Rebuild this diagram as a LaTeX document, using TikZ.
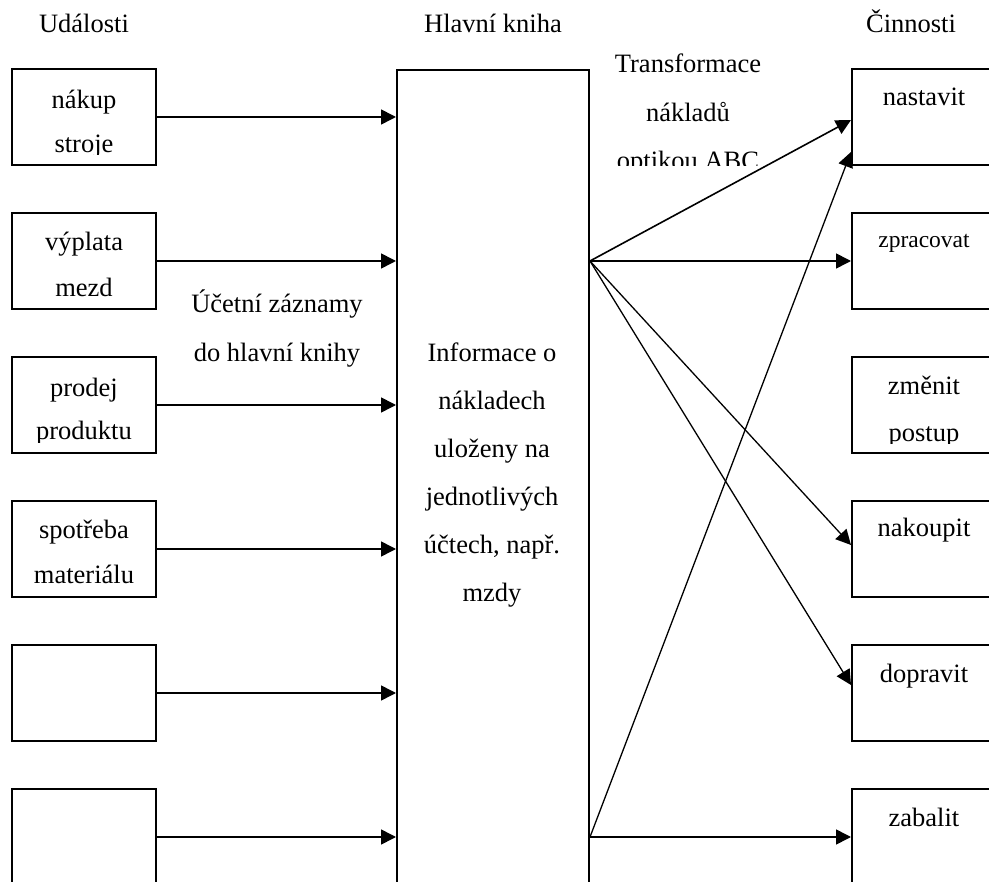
\documentclass[tikz,border=0pt]{standalone}
\usepackage{fontspec}
\setmainfont{Liberation Serif}
\usetikzlibrary{positioning,arrows.meta}

\tikzset{
  box/.style={draw,line width=2pt,minimum width=144pt,minimum height=96pt,inner sep=0pt},
  lbl/.style={anchor=base,inner sep=0pt,font=\fontsize{26.5}{30}\selectfont},
  small/.style={lbl,font=\fontsize{23.5}{28}\selectfont},
  arr/.style={-{Triangle[length=15pt,width=15pt]},line width=1.6pt},
}

\begin{document}
\begin{tikzpicture}[x=1pt,y=-1pt]
\clip (0,0) rectangle (989,882);

% column headings
\node[lbl] (hUd) at (84,33) {Události};
\node[lbl] (hHk) at (493,33) {Hlavní kniha};
\node[lbl] (hCi) at (911,33) {Činnosti};

% ledger
\node[draw,line width=2pt,minimum width=192pt,minimum height=840pt,inner sep=0pt,anchor=north west] (hk) at (396,69) {};
\foreach \t [count=\i] in {Informace o,nákladech,uloženy na,jednotlivých,{účtech, např.},mzdy}
  \node[lbl] (hk\i) at (492,{313.7+48*\i}) {\t};

% events and activities
\foreach \i in {1,...,6} {
  \node[box] (u\i) at (84,{117+144*(\i-1)}) {};
  \node[box] (c\i) at (924,{117+144*(\i-1)}) {};
}

\node[lbl] (u1a) at ([yshift=-41pt]u1.north) {nákup};
\begin{scope}
\clip (u1.north west) rectangle ([yshift=11pt]u1.south east);
\node[lbl] (u1b) at ([yshift=-85pt]u1.north) {stroje};
\end{scope}
\node[lbl] (u2a) at ([yshift=-39pt]u2.north) {výplata};
\node[lbl] (u2b) at ([yshift=-85pt]u2.north) {mezd};
\node[lbl] (u3a) at ([yshift=-41pt]u3.north) {prodej};
\begin{scope}
\clip (u3.north west) rectangle ([yshift=11pt]u3.south east);
\node[lbl] (u3b) at ([yshift=-84pt]u3.north) {produktu};
\end{scope}
\node[lbl] (u4a) at ([yshift=-39pt]u4.north) {spotřeba};
\node[lbl] (u4b) at ([yshift=-84pt]u4.north) {materiálu};

\node[lbl] (c1a) at ([yshift=-38pt]c1.north) {nastavit};
\node[small] (c2a) at ([yshift=-36pt]c2.north) {zpracovat};
\node[lbl] (c3a) at ([yshift=-39pt]c3.north) {změnit};
\begin{scope}
\clip (c3.north west) rectangle ([yshift=10pt]c3.south east);
\node[lbl] (c3b) at ([yshift=-86pt]c3.north) {postup};
\end{scope}
\node[lbl] (c4a) at ([yshift=-37pt]c4.north) {nakoupit};
\node[lbl] (c5a) at ([yshift=-38pt]c5.north) {dopravit};
\node[lbl] (c6a) at ([yshift=-38pt]c6.north) {zabalit};

% labels between the columns
\node[lbl] (zaz1) at (277,313) {Účetní záznamy};
\node[lbl] (zaz2) at (277,362) {do hlavní knihy};
\node[lbl] (tr1) at (688,73) {Transformace};
\node[lbl] (tr2) at (688,121.7) {nákladů};
\begin{scope}
\clip (600,140) rectangle (c1.south west);
\node[lbl] (tr3) at (688,170) {optikou ABC};
\end{scope}

% entries into the ledger
\foreach \i in {1,...,6}
  \draw[arr] (u\i.east) -- (u\i.east -| hk.west);

% transformation to activities
\coordinate (s1) at (hk.east |- c2.west);
\coordinate (s2) at (hk.east |- c6.west);
\draw[arr] (s1) -- ([yshift=-3pt]c1.west);
\draw[arr] (s1) -- (c2.west);
\draw[arr,line width=1.3pt] (s1) -- ([yshift=4pt]c4.west);
\draw[arr,line width=1.3pt] (s1) -- ([yshift=8pt]c5.west);
\draw[arr,line width=1.3pt] (s2) -- ([yshift=-35pt]c1.west);
\draw[arr] (s2) -- (c6.west);
\end{tikzpicture}
\end{document}
